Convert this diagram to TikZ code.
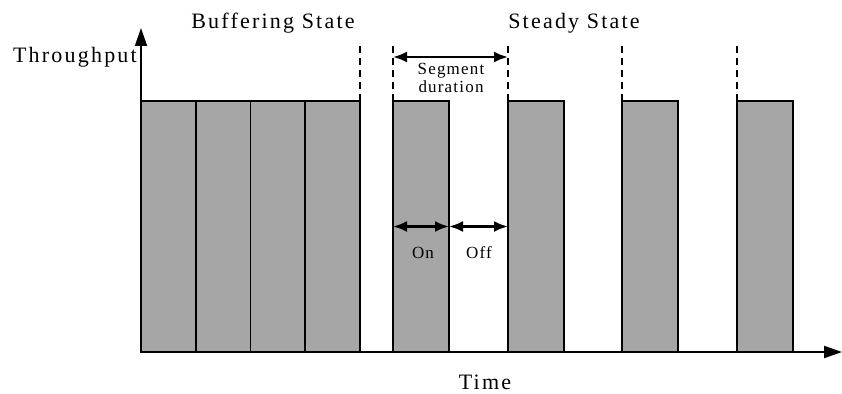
\documentclass[tikz,border=0pt]{standalone}
\usepackage{fontspec}
\setmainfont{Liberation Serif}
\newfontfamily\widefont[LetterSpace=10]{Liberation Serif}
\newfontfamily\notefont[LetterSpace=7]{Liberation Serif}
\usetikzlibrary{arrows.meta,positioning}

\definecolor{bargray}{RGB}{166,166,166}

\tikzset{
  bar/.style={draw, line width=1.7pt, fill=bargray, inner sep=0pt, outer sep=0pt,
    anchor=south west, minimum height=251pt},
  axis/.style={line width=1.9pt},
  slot/.style={line width=1.9pt, dash pattern=on 7pt off 5pt},
  span/.style={line width=2.4pt, {Latex[length=14pt,width=11pt]}-{Latex[length=14pt,width=11pt]}},
  title/.style={font=\widefont\fontsize{22}{26}\selectfont, anchor=base, inner sep=0pt},
  small/.style={font=\notefont\fontsize{17}{18}\selectfont, align=center, inner sep=0pt}
}

\begin{document}
\begin{tikzpicture}[x=1pt,y=-1pt]
    \useasboundingbox (0,0) rectangle (842,393);
    \coordinate (O) at (141,352);
    % Buffering bars, back to back
    \foreach \i in {1,...,4}
        \node[bar, minimum width=54.75pt] (b\i) at ({141+54.75*(\i-1)},352) {};
    % Steady bars, one per segment
    \foreach \i/\x in {1/393,2/508,3/622,4/737}
        \node[bar, minimum width=56pt] (s\i) at (\x,352) {};
    % Axes
    \draw[axis, -{Triangle[width=12pt,length=18pt]}] (O) -- (141,28) coordinate (ytop);
    \draw[axis, -{Triangle[width=12pt,length=18pt]}] (O) -- (842,352) coordinate (xend);
    % Segment boundaries
    \draw[slot] (b4.north east) -- ++(0,-59);
    \foreach \i in {1,...,4}
        \draw[slot] (s\i.north west) -- ++(0,-59);
    % Segment duration
    \coordinate (segL) at ([yshift=44pt]s1.north west);
    \coordinate (segR) at ([yshift=44pt]s2.north west);
    \draw[span] (segL) -- (segR);
    \node[small, anchor=base] (seg) at (451,93) {Segment\\duration};
    % On / Off periods
    \draw[span] (s1.west) -- (s1.east);
    \draw[span] (s1.east) -- (s2.west);
    \node[small, anchor=base] (on) at (423,258) {On};
    \node[small, anchor=base] (off) at (479,258) {Off};
    % Labels
    \node[title] (buf) at (273,29) {Buffering State};
    \node[title] (steady) at (574,29) {Steady State};
    \node[title, anchor=base east] (thr) at (137,63) {Throughput};
    \node[title] (time) at (485,389) {Time};
\end{tikzpicture}
\end{document}
